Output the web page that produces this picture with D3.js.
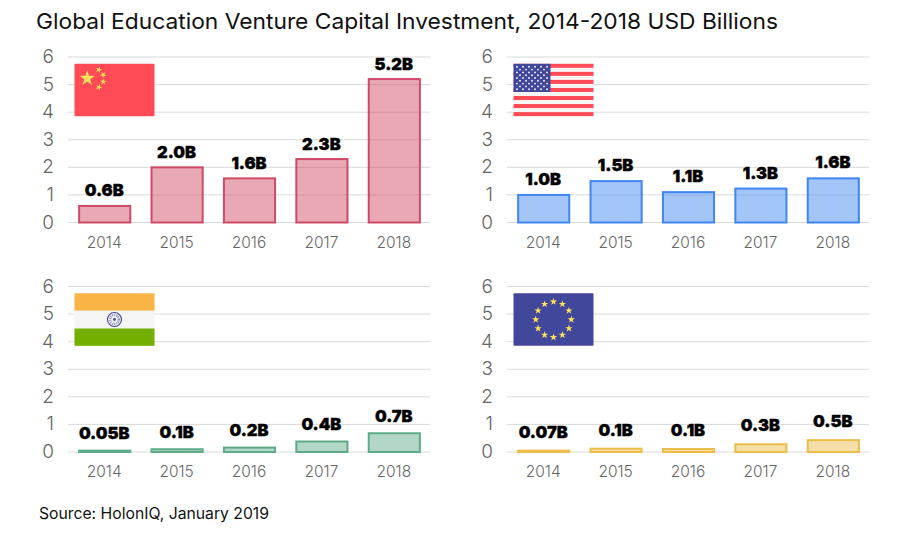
<!DOCTYPE html>
<html>
<head>
<meta charset="utf-8">
<script src="https://cdnjs.cloudflare.com/ajax/libs/d3/7.8.5/d3.min.js"></script>
<style>
body { margin: 0; background: #fff; }
text { font-family: Inter, "Open Sans", sans-serif; }
.tick-y { font-size: 19px; fill: #666; font-weight: 300; }
.tick-x { font-size: 15.5px; fill: #666; font-weight: 300; }
.value { font-size: 16.5px; font-weight: 900; fill: #000; stroke: #000; stroke-width: 0.35px; }
</style>
</head>
<body>
<script>
"use strict";

var width = 899, height = 537;

var years = ["2014", "2015", "2016", "2017", "2018"];
var yTicks = [0, 1, 2, 3, 4, 5, 6];

var chinaValues = [0.6, 2.0, 1.6, 2.3, 5.2];
var usaValues = [1.0, 1.5, 1.1, 1.23, 1.6];
var indiaValues = [0.05, 0.1, 0.16, 0.38, 0.68];
var euValues = [0.05, 0.12, 0.11, 0.28, 0.43];

var chinaLabels = ["0.6B", "2.0B", "1.6B", "2.3B", "5.2B"];
var usaLabels = ["1.0B", "1.5B", "1.1B", "1.3B", "1.6B"];
var indiaLabels = ["0.05B", "0.1B", "0.2B", "0.4B", "0.7B"];
var euLabels = ["0.07B", "0.1B", "0.1B", "0.3B", "0.5B"];

var titleText = "Global Education Venture Capital Investment, 2014-2018 USD Billions";
var sourceText = "Source: HolonIQ, January 2019";

var svg = d3.select("body").append("svg")
    .attr("width", width)
    .attr("height", height);

svg.append("text")
    .attr("x", 36).attr("y", 28.5)
    .attr("font-size", 22)
    .attr("textLength", 742)
    .attr("lengthAdjust", "spacingAndGlyphs")
    .attr("fill", "#111")
    .text(titleText);

svg.append("text")
    .attr("x", 39).attr("y", 519)
    .attr("font-size", 15.5)
    .attr("textLength", 230)
    .attr("lengthAdjust", "spacingAndGlyphs")
    .attr("fill", "#111")
    .text(sourceText);

function star(g, cx, cy, size, rot) {
    g.append("path")
        .attr("d", d3.symbol().type(d3.symbolStar).size(size))
        .attr("transform", "translate(" + cx + "," + cy + ") rotate(" + (rot || 0) + ")")
        .attr("fill", "#ffe15a");
}

function flagBase(g) {
    return g.append("rect").attr("width", 80).attr("height", 52.5).attr("rx", 1);
}

function drawChina(g) {
    flagBase(g).attr("fill", "#ff4b55");
    star(g, 12.7, 14.5, 75);
    star(g, 24.3, 6, 13, 20);
    star(g, 28.7, 11, 13, 40);
    star(g, 28.7, 18, 13, 0);
    star(g, 24.3, 23.5, 13, 20);
}

function drawUsa(g) {
    flagBase(g).attr("fill", "#f5f5f5");
    d3.range(7).forEach(function(i) {
        g.append("rect")
            .attr("y", i * 8.05)
            .attr("width", 80)
            .attr("height", 4)
            .attr("fill", "#ff4b55");
    });
    g.append("rect").attr("width", 37).attr("height", 28.2).attr("fill", "#41479b");
    d3.range(9).forEach(function(r) {
        var n = r % 2 ? 5 : 6;
        d3.range(n).forEach(function(c) {
            g.append("circle")
                .attr("cx", (r % 2 ? 6.5 : 3.5) + c * 6)
                .attr("cy", 3 + r * 2.8)
                .attr("r", 0.95)
                .attr("fill", "#f5f5f5");
        });
    });
}

function drawIndia(g) {
    flagBase(g).attr("fill", "#f5f5f5");
    g.append("rect").attr("width", 80).attr("height", 17.3).attr("fill", "#fab446");
    g.append("rect").attr("y", 35.2).attr("width", 80).attr("height", 17.3).attr("fill", "#73af00");
    g.append("circle").attr("cx", 40).attr("cy", 26.2).attr("r", 7)
        .attr("fill", "none").attr("stroke", "#41479b").attr("stroke-width", 1.1);
    g.append("circle").attr("cx", 40).attr("cy", 26.2).attr("r", 4.4)
        .attr("fill", "none").attr("stroke", "#8f92c4").attr("stroke-width", 2.6)
        .attr("stroke-dasharray", "1 1");
    g.append("circle").attr("cx", 40).attr("cy", 26.2).attr("r", 1.4).attr("fill", "#41479b");
}

function drawEu(g) {
    flagBase(g).attr("fill", "#41479b");
    d3.range(12).forEach(function(i) {
        var a = i * Math.PI / 6;
        star(g, 40 + 17.8 * Math.sin(a), 26.2 - 17.8 * Math.cos(a), 17);
    });
}

function panel(left, top, values, labels, labelGap, color, drawFlag) {
    var x = d3.scaleBand().domain(years).range([left, left + 362]).paddingInner(0.28).paddingOuter(0.14);
    var y = d3.scaleLinear().domain([0, 6]).range([top + 165.5, top]);
    var g = svg.append("g");

    g.selectAll(".grid").data(yTicks).enter().append("line")
        .attr("x1", left).attr("x2", left + 362)
        .attr("y1", function(d) { return y(d); })
        .attr("y2", function(d) { return y(d); })
        .attr("stroke", "#d9d9d9")
        .attr("stroke-width", 1);

    g.selectAll(".tick-y").data(yTicks).enter().append("text")
        .attr("class", "tick-y")
        .attr("x", left - 14)
        .attr("y", function(d) { return y(d) + 6; })
        .attr("text-anchor", "end")
        .text(function(d) { return d; });

    g.selectAll(".tick-x").data(years).enter().append("text")
        .attr("class", "tick-x")
        .attr("x", function(d) { return x(d) + x.bandwidth() / 2; })
        .attr("y", top + 190.5)
        .attr("text-anchor", "middle")
        .text(function(d) { return d; });

    g.selectAll(".bar").data(values).enter().append("rect")
        .attr("x", function(d, i) { return x(years[i]) + 1; })
        .attr("y", function(d) { return y(d); })
        .attr("width", x.bandwidth() - 1)
        .attr("height", function(d) { return y(0) - y(d); })
        .attr("fill", color)
        .attr("fill-opacity", 0.48)
        .attr("stroke", color)
        .attr("stroke-width", 2);

    g.selectAll(".value").data(values).enter().append("text")
        .attr("class", "value")
        .attr("x", function(d, i) { return x(years[i]) + x.bandwidth() / 2; })
        .attr("y", function(d) { return y(d) - labelGap; })
        .attr("text-anchor", "middle")
        .text(function(d, i) { return labels[i]; });

    var flag = g.append("g").attr("transform", "translate(" + (left + 6.5) + "," + (top + 6.8) + ")");
    drawFlag(flag);
}

panel(68, 57, chinaValues, chinaLabels, 9.5, "#cf4a66", drawChina);
panel(507, 57, usaValues, usaLabels, 10, "#3f86ee", drawUsa);
panel(68, 286.5, indiaValues, indiaLabels, 11.5, "#5fab88", drawIndia);
panel(507, 286.5, euValues, euLabels, 13, "#ebbd4a", drawEu);
</script>
</body>
</html>
